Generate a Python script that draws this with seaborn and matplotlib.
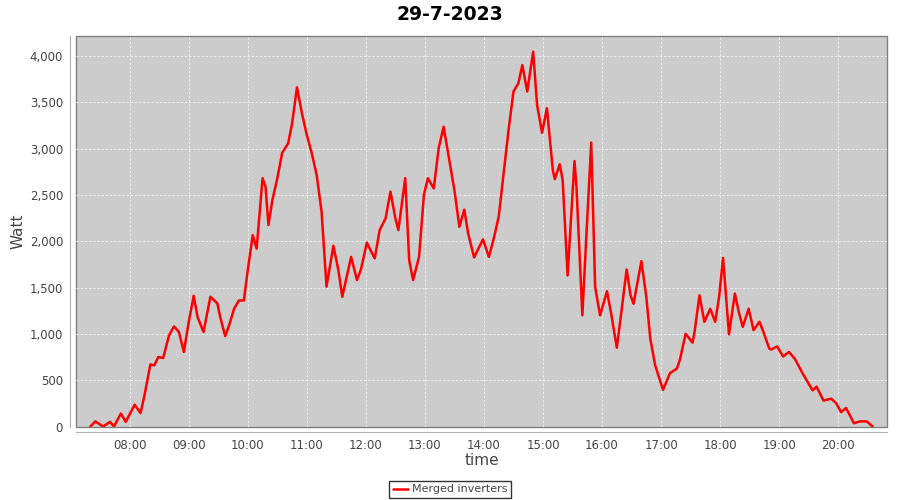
"""Solar output for one day, merged inverters"""
import matplotlib
matplotlib.use("Agg")
import matplotlib.pyplot as plt
import matplotlib.dates as mdates
from matplotlib.ticker import FuncFormatter
import pandas as pd
import seaborn as sns

day = "2023-07-29"
times = [
    "07:20", "07:25", "07:33", "07:40", "07:44", "07:51", "07:56", "08:05", "08:11", "08:15",
    "08:21", "08:25", "08:29", "08:34", "08:40", "08:45", "08:50", "08:55", "09:00", "09:05",
    "09:09", "09:15", "09:22", "09:29", "09:32", "09:37", "09:41", "09:46", "09:51", "09:56",
    "10:00", "10:05", "10:09", "10:15", "10:18", "10:21", "10:25", "10:30", "10:35", "10:41",
    "10:45", "10:50", "10:55", "11:00", "11:05", "11:10", "11:15", "11:20", "11:27", "11:32",
    "11:36", "11:45", "11:51", "11:55", "12:01", "12:06", "12:09", "12:14", "12:20", "12:25",
    "12:30", "12:33", "12:40", "12:44", "12:48", "12:54", "12:59", "13:03", "13:09", "13:14",
    "13:19", "13:25", "13:30", "13:35", "13:40", "13:44", "13:50", "13:59", "14:05", "14:10",
    "14:15", "14:20", "14:25", "14:30", "14:35", "14:39", "14:44", "14:50", "14:54", "14:59",
    "15:04", "15:10", "15:12", "15:17", "15:20", "15:25", "15:32", "15:34", "15:40", "15:44",
    "15:49", "15:53", "15:58", "16:05", "16:09", "16:15", "16:19", "16:25", "16:29", "16:32",
    "16:40", "16:45", "16:49", "16:54", "17:02", "17:09", "17:16", "17:19", "17:25", "17:32",
    "17:34", "17:39", "17:44", "17:50", "17:55", "17:59", "18:03", "18:06", "18:09", "18:15",
    "18:19", "18:23", "18:29", "18:34", "18:40", "18:44", "18:50", "18:52", "18:58", "19:04",
    "19:10", "19:16", "19:24", "19:29", "19:34", "19:38", "19:45", "19:53", "19:58", "20:03",
    "20:08", "20:16", "20:22", "20:29", "20:35",
]
watt = [
    0, 55, 0, 50, 0, 140, 50, 235, 145, 335,
    670, 660, 750, 740, 985, 1080, 1020, 805, 1130, 1410,
    1180, 1020, 1400, 1330, 1180, 975, 1090, 1270, 1360, 1360,
    1690, 2065, 1920, 2680, 2590, 2175, 2445, 2680, 2955, 3055,
    3270, 3660, 3380, 3145, 2950, 2715, 2315, 1510, 1950, 1690,
    1400, 1830, 1580, 1695, 1985, 1875, 1815, 2120, 2245, 2535,
    2245, 2120, 2680, 1795, 1580, 1830, 2500, 2680, 2570, 3005,
    3235, 2860, 2550, 2155, 2340, 2080, 1825, 2020, 1830, 2030,
    2265, 2735, 3200, 3615, 3705, 3900, 3615, 4045, 3470, 3170,
    3435, 2765, 2670, 2830, 2660, 1630, 2865, 2590, 1200, 2045,
    3065, 1505, 1200, 1460, 1235, 850, 1180, 1695, 1415, 1325,
    1785, 1400, 950, 660, 395, 575, 625, 715, 1000, 905,
    1020, 1415, 1130, 1270, 1130, 1400, 1820, 1400, 995, 1435,
    1235, 1075, 1270, 1040, 1130, 1020, 840, 830, 865, 755,
    805, 730, 570, 480, 390, 430, 280, 300, 250, 155,
    200, 35, 55, 55, 0,
]
series_name = "Merged inverters"

df = pd.DataFrame({
    "time": pd.to_datetime([f"{day} {t}" for t in times]),
    "Watt": watt,
    "series": series_name,
})

sns.set_style("white")
plt.rcParams["font.family"] = ["DejaVu Sans"]

fig, ax = plt.subplots(figsize=(9, 5), dpi=100)
fig.subplots_adjust(left=0.084, right=0.986, top=0.929, bottom=0.147)

ax.set_facecolor("#cccccc")
ax.patch.set_edgecolor("#808080")
ax.patch.set_linewidth(1.0)

sns.lineplot(data=df, x="time", y="Watt", hue="series", palette=["#ff0000"],
             linewidth=1.8, ax=ax, legend=False)

ax.set_xlim(pd.Timestamp(f"{day} 07:05"), pd.Timestamp(f"{day} 20:50"))
ax.set_ylim(0, 4220)
ax.xaxis.set_major_locator(mdates.HourLocator())
ax.xaxis.set_major_formatter(mdates.DateFormatter("%H:%M"))
ax.yaxis.set_major_locator(plt.MultipleLocator(500))
ax.yaxis.set_major_formatter(FuncFormatter(lambda v, p: f"{v:,.0f}"))

ax.grid(True, color="#eeeeee", linestyle=(0, (3, 2)), linewidth=0.6)
for side in ["top", "right"]:
    ax.spines[side].set_visible(False)
for side in ["left", "bottom"]:
    ax.spines[side].set_position(("outward", 4))
    ax.spines[side].set_color("#b0b0b0")
    ax.spines[side].set_linewidth(0.8)

ax.tick_params(axis="both", which="major", direction="out", length=3, width=0.8,
               color="#b0b0b0", labelsize=8.5, labelcolor="#444444", pad=2)

ax.set_xlabel("time", fontsize=11, color="#444444", labelpad=1)
ax.set_ylabel("Watt", fontsize=11, color="#444444", labelpad=3)
fig.suptitle("29-7-2023", fontsize=13.5, fontweight="bold", color="black",
             x=0.5, y=0.99)

handle = plt.Line2D([], [], color="#ff0000", linewidth=1.8)
leg = fig.legend([handle], [series_name], loc="lower center",
                 bbox_to_anchor=(0.5, 0.0), fontsize=8, frameon=True,
                 fancybox=False, handlelength=1.4, handletextpad=0.3,
                 borderpad=0.3, borderaxespad=0.2)
leg.get_frame().set_edgecolor("black")
leg.get_frame().set_linewidth(1.0)
for t in leg.get_texts():
    t.set_color("#444444")

fig.savefig("out.png", dpi=100)
